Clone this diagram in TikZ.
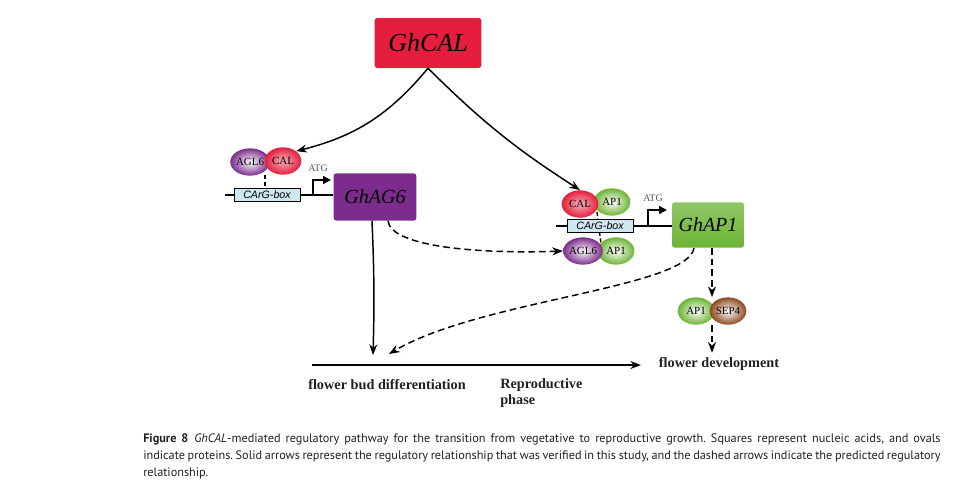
\documentclass[tikz,border=0pt]{standalone}
\usepackage{fontspec}
\setmainfont{Liberation Serif}
\setsansfont{Liberation Sans}
\newfontfamily\capfont{PT Sans}
\usetikzlibrary{arrows.meta,shapes,positioning}
\definecolor{calred}{RGB}{228,30,60}
\definecolor{agpurple}{RGB}{124,44,140}
\definecolor{apgreen}{RGB}{108,180,52}
\definecolor{sepbrown}{RGB}{140,74,30}
\definecolor{boxblue}{RGB}{205,232,240}
\definecolor{ink}{RGB}{35,31,32}
\frenchspacing
\begin{document}
\begin{tikzpicture}[x=0.75pt,y=-0.75pt]
			\tikzset{line/.style={draw,line width=1.1pt}}
			\tikzset{arrow/.style={line,-{Stealth[length=8pt,width=6pt]}}}
			\tikzset{dasharrow/.style={arrow,dash pattern=on 5pt off 3pt}}
			\tikzset{tick/.style={draw,line width=1pt,dash pattern=on 3pt off 2pt}}
			\tikzset{gene/.style={rounded corners=2pt,inner sep=0pt,font=\itshape\fontsize{15}{16}\selectfont}}
			\tikzset{prot/.style={shape=ellipse,inner sep=0pt,minimum width=27.5pt,minimum height=20.5pt,font=\fontsize{8.2}{9}\selectfont,shading=radial}}
			\tikzset{cargbox/.style={draw,fill=boxblue,line width=0.5pt,minimum width=49.5pt,minimum height=9.5pt,inner sep=0pt,font=\sffamily\itshape\fontsize{8}{9}\selectfont}}
			\tikzset{tss/.style={line,-{Triangle[length=6pt,width=6pt]}}}
			\tikzset{stage/.style={font=\bfseries\fontsize{10.7}{12.5}\selectfont,text=ink}}

			\useasboundingbox (0,0) rectangle (978,496);

			% genes
			\node[gene,fill=calred,minimum width=80pt,minimum height=37.5pt,font=\itshape\fontsize{19.5}{22}\selectfont] (cal) at (428,43) {GhCAL};
			\node[gene,fill=agpurple,minimum width=62pt,minimum height=35.5pt] (ag6) at (375,197) {GhAG6};
			\node[gene,top color=apgreen!75,bottom color=apgreen,minimum width=54pt,minimum height=34pt] (ap1) at (708,225) {GhAP1};

			% left promoter
			\coordinate (l0) at (225,195);
			\draw[line] (l0) -- (l0 -| ag6.west);
			\node[cargbox] (carg1) at (267,195) {CArG-box};
			\coordinate (tss1) at (313,195);
			\draw[tss] (tss1) -- ++(0,-15) -- ++(18,0);
			\node[font=\fontsize{7.5}{8}\selectfont,text=black!65] (atg1) at (318,168) {ATG};
			\coordinate (d1) at (265,175);
			\draw[tick] (d1) -- (d1 |- carg1.north);
			\node[prot,inner color=white,outer color=agpurple] (agl6a) at (250,162) {AGL6};
			\node[prot,inner color=calred!35,outer color=calred] (cala) at (283,161) {CAL};

			% right promoter
			\coordinate (r0) at (556,226);
			\draw[line] (r0) -- (r0 -| ap1.west);
			\coordinate (d2) at (597,212);
			\coordinate (d3) at (601,244);
			\draw[tick] (d2) -- (d3);
			\node[cargbox] (carg2) at (600,226) {CArG-box};
			\coordinate (tss2) at (648,226);
			\draw[tss] (tss2) -- ++(0,-16) -- ++(19,0);
			\node[font=\fontsize{7.5}{8}\selectfont,text=black!65] (atg2) at (653,198) {ATG};
			\node[prot,inner color=white,outer color=apgreen] (ap1a) at (612,202) {AP1};
			\node[prot,inner color=calred!35,outer color=calred] (calb) at (580,204) {CAL};
			\node[prot,inner color=white,outer color=apgreen] (ap1b) at (616,251) {AP1};
			\node[prot,inner color=white,outer color=agpurple] (agl6b) at (583,251) {AGL6};

			% AP1-SEP4
			\node[prot,inner color=white,outer color=apgreen] (ap1c) at (696,311) {AP1};
			\node[prot,inner color=white,outer color=sepbrown] (sep4) at (728,311) {SEP4};

			% stages
			\coordinate (t0) at (312,365);
			\coordinate (t1) at (641,365);
			\draw[arrow] (t0) -- (t1);
			\node[stage] (fbd) at (387,385) {flower bud differentiation};
			\node[stage,anchor=north west,align=left,inner sep=0pt] (rp) at (500,378) {Reproductive\\phase};
			\node[stage] (fd) at (719,364) {flower development};
			\coordinate (hit1) at (373,355);
			\coordinate (hit2) at (389,354);

			% regulation
			\draw[arrow] (cal.south) to[bend left=18] (cala.north east);
			\draw[arrow] (cal.south) to[bend right=6] (calb.north);
			\draw[arrow] (ag6.south -| 372,0) to[bend left=2] (hit1);
			\draw[dasharrow] (ag6.south -| 388,0) .. controls (391,247) and (480,254) .. (agl6b.west);
			\draw[dasharrow] (ap1.south -| 694,0) .. controls (688,288) and (480,300) .. (hit2);
			\draw[dasharrow] (ap1.south -| 712,0) -- (ap1c.north -| 712,0);
			\draw[dasharrow] (sep4.south -| 712,0) -- (fd.north -| 712,0);

			% caption
			\node[anchor=north west,align=justify,text width=598pt,inner sep=0pt,text=ink,font=\capfont\fontsize{9.2}{12.75}\selectfont] (caption) at (143,433)
			{\textbf{Figure 8}\enspace\textit{GhCAL}-mediated regulatory pathway for the transition from vegetative to reproductive growth. Squares represent nucleic acids, and ovals\linebreak
			indicate proteins. Solid arrows represent the regulatory relationship that was verified in this study, and the dashed arrows indicate the predicted regulatory\linebreak
			relationship.};
\end{tikzpicture}
\end{document}
